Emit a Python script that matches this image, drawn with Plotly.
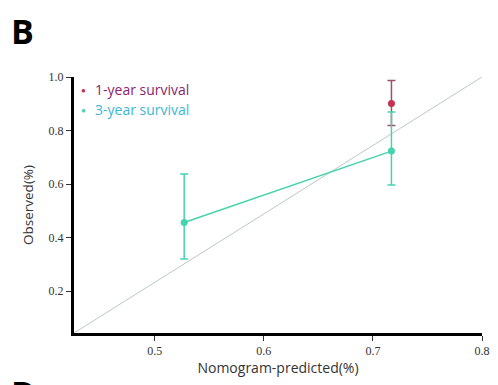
import plotly.graph_objects as go

# Data
pred_1y = [0.717]
obs_1y = [0.901]
err_1y_plus = [0.086]
err_1y_minus = [0.082]

pred_3y = [0.527, 0.717]
obs_3y = [0.456, 0.723]
err_3y_plus = [0.181, 0.146]
err_3y_minus = [0.136, 0.127]

x_range = [0.426, 0.8]
y_range = [0.043, 1.0]
x_ticks = [0.5, 0.6, 0.7, 0.8]
y_ticks = [0.2, 0.4, 0.6, 0.8, 1.0]
legend_labels = ["1-year survival", "3-year survival"]

c1_marker = "#c4324e"
c1_text = "#8e1d6e"
c3_line = "#45d3ad"
c3_text = "#3cb8d2"

W, H = 498, 385
L, R, T, B = 74, 8, 77, 52
pw, ph = W - L - R, H - T - B


def px_x(px):
    return (px - L) / pw


def px_y(py):
    return 1 - (py - T) / ph


fig = go.Figure()

# reference diagonal corner-to-corner
fig.add_trace(go.Scatter(x=x_range, y=y_range, mode="lines",
                         line=dict(color="#bcc8c6", width=1), showlegend=False,
                         hoverinfo="skip"))

fig.add_trace(go.Scatter(
    x=pred_1y, y=obs_1y, mode="markers+lines", showlegend=False,
    marker=dict(color=c1_marker, size=7),
    line=dict(color=c1_marker, width=1.5),
    error_y=dict(type="data", array=err_1y_plus, arrayminus=err_1y_minus,
                 color="#a0506e", thickness=1.5, width=4)))

fig.add_trace(go.Scatter(
    x=pred_3y, y=obs_3y, mode="markers+lines", showlegend=False,
    marker=dict(color=c3_line, size=7),
    line=dict(color=c3_line, width=1.5),
    error_y=dict(type="data", array=err_3y_plus, arrayminus=err_3y_minus,
                 color=c3_line, thickness=1.5, width=4)))

tick_font = dict(family="Liberation Serif, Times New Roman, serif", size=12, color="#333")

annotations = [
    dict(text="<b>B</b>", x=px_x(8), y=px_y(6), xanchor="left", yanchor="top",
         font=dict(family="Open Sans, Arial, sans-serif", size=34, color="black")),
    dict(text="<b>D</b>", x=px_x(8), y=px_y(368), xanchor="left", yanchor="top",
         font=dict(family="Open Sans, Arial, sans-serif", size=34, color="black")),
]
leg_y = [89, 109]
leg_col = [(c1_marker, c1_text), (c3_line, c3_text)]
for lab, yy, (mc, tc) in zip(legend_labels, leg_y, leg_col):
    annotations.append(dict(text="●", x=px_x(84), y=px_y(yy), xanchor="center", yanchor="middle",
                            font=dict(size=8, color=mc)))
    annotations.append(dict(text=lab, x=px_x(93), y=px_y(yy), xanchor="left", yanchor="middle",
                            font=dict(family="Open Sans, sans-serif", size=14, color=tc)))
for a in annotations:
    a.update(xref="paper", yref="paper", showarrow=False)

fig.update_layout(
    width=W, height=H,
    margin=dict(l=L, r=R, t=T, b=B),
    plot_bgcolor="white", paper_bgcolor="white",
    showlegend=False,
    xaxis=dict(range=x_range, tickvals=x_ticks, ticktext=["0.5", "0.6", "0.7", "0.8"],
               showgrid=False, zeroline=False, showline=True, linecolor="black",
               linewidth=3, ticks="outside", ticklen=5, tickcolor="#333", tickwidth=1,
               tickfont=tick_font,
               title=dict(text="Nomogram-predicted(%)", standoff=2,
                          font=dict(family="Open Sans, sans-serif", size=14, color="#333"))),
    yaxis=dict(range=y_range, tickvals=y_ticks, ticktext=["0.2", "0.4", "0.6", "0.8", "1.0"],
               showgrid=False, zeroline=False, showline=True, linecolor="black",
               linewidth=3, ticks="outside", ticklen=5, tickcolor="#333", tickwidth=1,
               tickfont=tick_font,
               title=dict(text="Observed(%)", standoff=12,
                          font=dict(family="Open Sans, sans-serif", size=13.5, color="#333"))),
    annotations=annotations,
)

fig.write_html("out.html")
